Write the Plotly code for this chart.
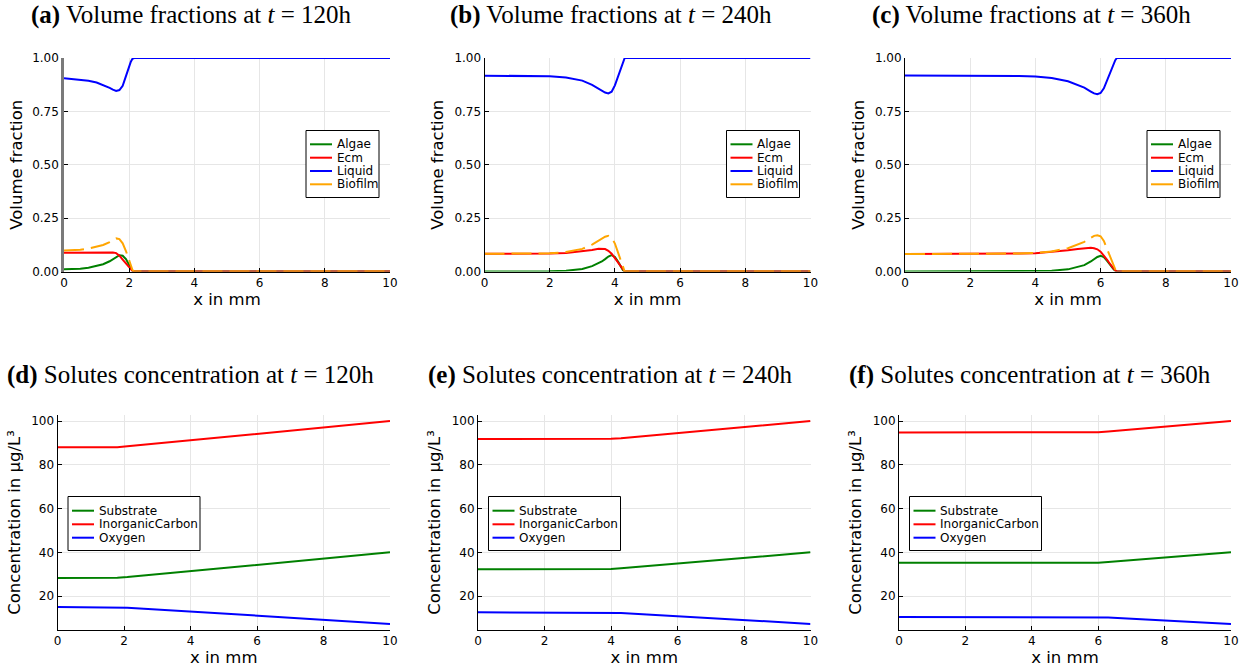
import plotly.graph_objects as go

W, H = 1247, 670

# ---------------- data: volume fractions ----------------
x_a = [0, 0.25, 0.5, 0.75, 1.0, 1.2, 1.4, 1.5, 1.6, 1.7, 1.8, 1.9, 2.0, 2.05, 2.1, 2.15, 2.2, 10]
algae_a = [0.010, 0.011, 0.013, 0.018, 0.025, 0.034, 0.048, 0.058, 0.068, 0.076, 0.074, 0.058, 0.030, 0.016, 0.004, 0, 0, 0]
ecm_a = [0.088, 0.088, 0.089, 0.089, 0.090, 0.090, 0.090, 0.089, 0.086, 0.074, 0.056, 0.038, 0.020, 0.011, 0.003, 0, 0, 0]
liquid_a = [0.905, 0.902, 0.898, 0.893, 0.885, 0.874, 0.860, 0.852, 0.846, 0.850, 0.870, 0.915, 0.962, 0.983, 0.996, 1, 1, 1]
biofilm_a = [0.098, 0.099, 0.102, 0.107, 0.115, 0.124, 0.138, 0.147, 0.155, 0.152, 0.132, 0.096, 0.050, 0.027, 0.007, 0, 0, 0]

x_b = [0, 1, 2, 2.5, 3.0, 3.3, 3.5, 3.6, 3.7, 3.8, 3.9, 4.0, 4.1, 4.2, 4.25, 4.3, 4.35, 10]
algae_b = [0, 0, 0.001, 0.004, 0.012, 0.025, 0.038, 0.047, 0.058, 0.070, 0.077, 0.068, 0.045, 0.018, 0.006, 0, 0, 0]
ecm_b = [0.083, 0.083, 0.084, 0.087, 0.094, 0.101, 0.106, 0.107, 0.105, 0.097, 0.083, 0.063, 0.042, 0.020, 0.008, 0, 0, 0]
liquid_b = [0.917, 0.917, 0.915, 0.909, 0.894, 0.874, 0.856, 0.846, 0.838, 0.834, 0.842, 0.872, 0.918, 0.965, 0.987, 1, 1, 1]
biofilm_b = [0.083, 0.083, 0.085, 0.091, 0.106, 0.126, 0.144, 0.154, 0.163, 0.167, 0.160, 0.131, 0.087, 0.038, 0.014, 0, 0, 0]

x_c = [0, 2, 3, 3.5, 4, 4.5, 5, 5.3, 5.5, 5.7, 5.8, 5.9, 6.0, 6.1, 6.2, 6.3, 6.4, 6.45, 6.5, 6.55, 10]
algae_c = [0, 0, 0, 0, 0.001, 0.003, 0.010, 0.020, 0.030, 0.047, 0.058, 0.068, 0.074, 0.068, 0.050, 0.028, 0.010, 0.004, 0, 0, 0]
ecm_c = [0.082, 0.082, 0.083, 0.084, 0.086, 0.091, 0.099, 0.105, 0.109, 0.111, 0.109, 0.104, 0.093, 0.076, 0.055, 0.033, 0.013, 0.005, 0, 0, 0]
liquid_c = [0.918, 0.918, 0.917, 0.916, 0.913, 0.906, 0.891, 0.875, 0.861, 0.843, 0.834, 0.830, 0.836, 0.858, 0.897, 0.940, 0.977, 0.990, 1, 1, 1]
biofilm_c = [0.082, 0.082, 0.083, 0.084, 0.087, 0.094, 0.109, 0.125, 0.139, 0.158, 0.167, 0.170, 0.165, 0.143, 0.105, 0.062, 0.024, 0.010, 0, 0, 0]

# ---------------- data: solutes ----------------
x_d = [0, 1.5, 1.8, 2.1, 10]
substrate_d = [28.3, 28.3, 28.4, 28.7, 40]
inorganic_d = [88.0, 88.0, 88.1, 88.5, 100]
oxygen_d = [15.0, 15.0, 14.95, 14.7, 7.3]

x_e = [0, 3.7, 4.0, 4.3, 10]
substrate_e = [32.3, 32.3, 32.4, 32.7, 40]
inorganic_e = [91.8, 91.8, 91.9, 92.2, 100]
oxygen_e = [12.6, 12.6, 12.55, 12.3, 7.3]

x_f = [0, 5.7, 6.0, 6.3, 10]
substrate_f = [35.2, 35.2, 35.3, 35.6, 40]
inorganic_f = [94.8, 94.8, 94.9, 95.2, 100]
oxygen_f = [10.5, 10.5, 10.45, 10.2, 7.3]

vf_names = ["Algae", "Ecm", "Liquid", "Biofilm"]
sol_names = ["Substrate", "InorganicCarbon", "Oxygen"]
times = ["120", "240", "360"]
vf_ticks = [0, 0.25, 0.5, 0.75, 1.0]
x_ticks = [0, 2, 4, 6, 8, 10]
sol_ticks = [20, 40, 60, 80, 100]

# ---------------- styling ----------------
GREEN, RED, BLUE, ORANGE = "#008000", "#ff0000", "#0000ff", "#ffa500"
vf_colors = [GREEN, RED, BLUE, ORANGE]
sol_colors = [GREEN, RED, BLUE]
DASH = "20px,7px"
SANS = "DejaVu Sans"
SERIF = "Liberation Serif"

def px(x):
    return x / W

def py(y):
    return 1 - y / H

# panel pixel boxes: (left, right, top, bottom)
boxes = [
    (64, 390, 58, 271.5),
    (484.5, 810.5, 58, 271.5),
    (905, 1231, 58, 271.5),
    (57.5, 390, 415, 630),
    (478, 810.5, 415, 630),
    (899, 1231, 415, 630),
]

fig = go.Figure()

vf_data = [
    (x_a, [algae_a, ecm_a, liquid_a, biofilm_a]),
    (x_b, [algae_b, ecm_b, liquid_b, biofilm_b]),
    (x_c, [algae_c, ecm_c, liquid_c, biofilm_c]),
]
sol_data = [
    (x_d, [substrate_d, inorganic_d, oxygen_d]),
    (x_e, [substrate_e, inorganic_e, oxygen_e]),
    (x_f, [substrate_f, inorganic_f, oxygen_f]),
]

for i, (xs, series) in enumerate(vf_data):
    ax = "" if i == 0 else str(i + 1)
    for name, ys, col in zip(vf_names, series, vf_colors):
        fig.add_trace(go.Scatter(
            x=xs, y=ys, mode="lines", name=name, showlegend=False,
            line=dict(color=col, width=2, dash=DASH if name == "Biofilm" else "solid"),
            xaxis="x" + ax, yaxis="y" + ax))

for j, (xs, series) in enumerate(sol_data):
    ax = str(j + 4)
    for name, ys, col in zip(sol_names, series, sol_colors):
        fig.add_trace(go.Scatter(
            x=xs, y=ys, mode="lines", name=name, showlegend=False,
            line=dict(color=col, width=2),
            xaxis="x" + ax, yaxis="y" + ax))

layout = dict(
    width=W, height=H, margin=dict(l=0, r=0, t=0, b=0, autoexpand=False),
    paper_bgcolor="white", plot_bgcolor="white", showlegend=False,
    font=dict(family=SANS, color="black", size=12),
)

axis_common = dict(
    showgrid=True, gridcolor="#e6e6e6", gridwidth=1,
    showline=True, linecolor="black", linewidth=1,
    ticks="inside", ticklen=4, tickcolor="black", tickwidth=1,
    zeroline=False, tickfont=dict(family=SANS, size=12, color="black"),
    mirror=False, automargin=False,
)

for k, (l, r, t, b) in enumerate(boxes):
    ax = "" if k == 0 else str(k + 1)
    xa = dict(axis_common, domain=[px(l), px(r)], anchor="y" + ax, range=[0, 10],
              tickvals=x_ticks, ticktext=[str(v) for v in x_ticks],
              title=dict(text="x in mm", font=dict(family=SANS, size=16.5), standoff=3))
    if k < 3:
        ya = dict(axis_common, domain=[py(b), py(t)], anchor="x" + ax, range=[0, 1],
                  tickvals=vf_ticks, ticktext=["%.2f" % v for v in vf_ticks],
                  title=dict(text="Volume fraction", font=dict(family=SANS, size=16.5), standoff=6))
        if k == 0:
            ya["linecolor"] = "#7a7a7a"
            ya["linewidth"] = 2.5
    else:
        ya = dict(axis_common, domain=[py(b), py(t)], anchor="x" + ax, range=[4.5, 102.8],
                  tickvals=sol_ticks, ticktext=[str(v) for v in sol_ticks],
                  title=dict(text="Concentration in µg/L³", font=dict(family=SANS, size=16.5), standoff=6))
    layout["xaxis" + ax] = xa
    layout["yaxis" + ax] = ya

fig.update_layout(**layout)

# ---------------- titles ----------------
letters = ["a", "b", "c", "d", "e", "f"]
title_cx = [191, 611, 1031, 190, 610, 1030]
title_cy = [15, 15, 15, 375, 375, 375]
for k in range(6):
    if k < 3:
        body = "Volume fractions at"
    else:
        body = "Solutes concentration at"
    txt = "<b>(%s)</b> %s <i>t</i> = %sh" % (letters[k], body, times[k % 3])
    fig.add_annotation(x=px(title_cx[k]), y=py(title_cy[k]), xref="paper", yref="paper",
                       text=txt, showarrow=False, xanchor="center", yanchor="middle",
                       font=dict(family=SERIF, size=25, color="black"))

# ---------------- legends (drawn manually to match compact layout) ----------------
def draw_legend(box, names, colors, row_y):
    bl, br, bt, bb = box
    fig.add_shape(type="rect", xref="paper", yref="paper",
                  x0=px(bl), x1=px(br), y0=py(bb), y1=py(bt),
                  line=dict(color="black", width=1), fillcolor="white", layer="above")
    for name, col, yy in zip(names, colors, row_y):
        fig.add_shape(type="line", xref="paper", yref="paper",
                      x0=px(bl + 4), x1=px(bl + 26), y0=py(yy), y1=py(yy),
                      line=dict(color=col, width=2), layer="above")
        fig.add_annotation(x=px(bl + 28.5), y=py(yy), xref="paper", yref="paper",
                           text=name, showarrow=False, xanchor="left", yanchor="middle",
                           font=dict(family=SANS, size=12, color="black"))

for k in range(3):
    l = boxes[k][0]
    draw_legend((l + 242, l + 315, 130.5, 197.5), vf_names, vf_colors,
                [144.3, 157.7, 171.0, 184.3])
for k in range(3, 6):
    l = boxes[k][0]
    draw_legend((l + 10.5, l + 142.5, 496.5, 550.5), sol_names, sol_colors,
                [510.7, 524.3, 537.7])

fig.write_html("out.html", config={"displayModeBar": False},
               post_script="document.body.style.margin='0px';")
